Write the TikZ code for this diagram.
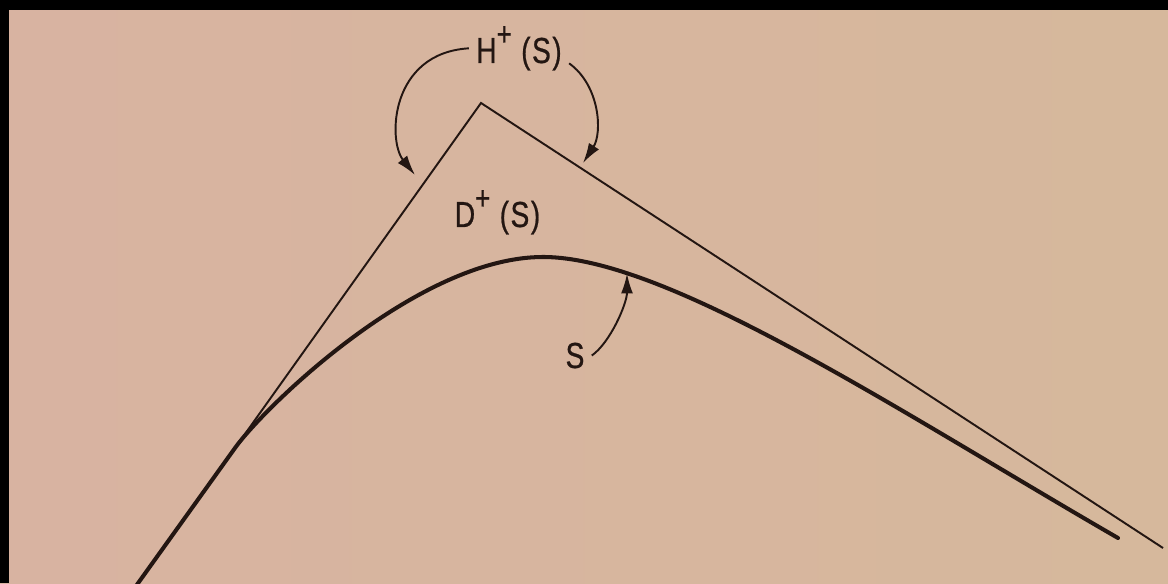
\documentclass[tikz,border=0pt]{standalone}
\usepackage{fontspec}
\usetikzlibrary{arrows.meta}
\newfontfamily\lettering[FakeStretch=0.78,LetterSpace=4,FakeBold=0.6]{Liberation Sans}
\newcommand{\upplus}{\raisebox{10pt}{\fontsize{19}{19}\selectfont +}}
\definecolor{paperL}{RGB}{216,179,161}
\definecolor{paperR}{RGB}{214,184,156}
\definecolor{ink}{RGB}{35,22,18}

\begin{document}
\begin{tikzpicture}[
  edge/.style={draw=ink, line width=1.1pt, line join=miter},
  surface/.style={draw=ink, line width=2.3pt, line cap=round},
  pointer/.style={draw=ink, line width=1.1pt, -{Latex[length=4mm, width=2.4mm]}},
  lbl/.style={font=\lettering\fontsize{20.6}{24}\selectfont, text=ink, inner sep=4pt, anchor=base},
]
  % Page
  \shade[left color=paperL, right color=paperR] (0,0) rectangle (23.36,11.66);
  \useasboundingbox (0,0) rectangle (23.36,11.66);

  % Points of the cone and the surface
  \coordinate (base) at (2.62,-0.2);
  \coordinate (join) at (4.70,2.70);
  \coordinate (apex) at (9.62,9.60);
  \coordinate (farend) at (23.26,0.70);
  \coordinate (top) at (10.86,6.52);
  \coordinate (tail) at (22.36,0.90);

  % Cone edges
  \draw[edge] (join) -- (apex) -- (farend);

  % Surface S
  \draw[surface] (base) -- (join)
    .. controls (5.28,3.51) and (8.36,6.52) .. (top)
    .. controls (13.36,6.52) and (18.03,3.40) .. (tail);

  % Labels
  \node[lbl] (hlabel) at (10.38,10.40) {H\upplus\ (S)};
  \node[lbl] (dlabel) at (9.95,7.12) {D\upplus\ (S)};
  \node[lbl] (slabel) at (11.50,4.30) {S};

  % Arrow ends
  \coordinate (hleft) at (8.30,8.16);
  \coordinate (hright) at (11.66,8.40);
  \coordinate (stip) at (12.54,6.19);

  \draw[pointer] (hlabel.west) .. controls (7.8,10.6) and (7.75,8.85) .. (hleft);
  \draw[pointer] ([yshift=-0.3cm]hlabel.east) .. controls (12.0,9.95) and (12.05,9.0) .. (hright);
  \draw[pointer] (slabel.east) .. controls +(35:0.45) and +(0,-0.6) .. (stip);

  % Dark border of the photo
  \fill[black] (0,11.46) rectangle (23.36,11.66);
  \fill[black] (0,0) rectangle (0.18,11.66);
\end{tikzpicture}
\end{document}
